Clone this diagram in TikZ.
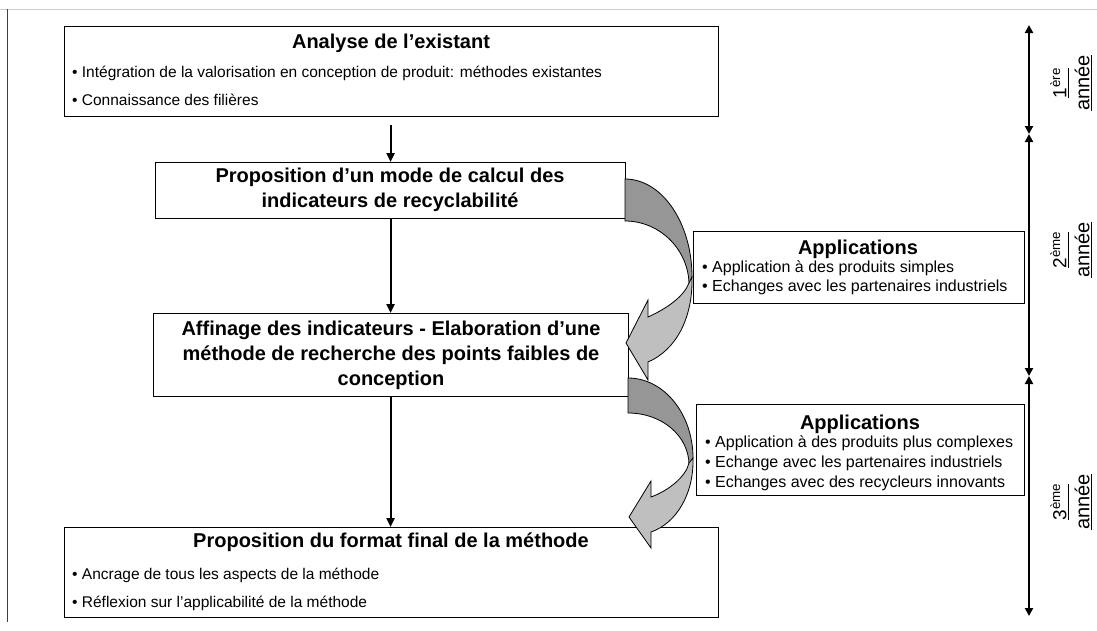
\documentclass[tikz,border=0pt]{standalone}
\usepackage{fontspec}
\setmainfont{Liberation Sans}
\usetikzlibrary{arrows.meta}
\begin{document}
\begin{tikzpicture}[x=1pt,y=-1pt,
  boxst/.style={draw=black,line width=1.2pt,fill=white,inner sep=0pt,anchor=north west},
  titlest/.style={inner sep=0pt,align=center,font=\fontsize{20}{25}\selectfont\bfseries},
  apptitle/.style={inner sep=0pt,font=\fontsize{20}{24}\selectfont\bfseries},
  bulst/.style={inner sep=0pt,anchor=mid west,font=\fontsize{15.5}{18}\selectfont},
  appbul/.style={inner sep=0pt,anchor=mid west,font=\fontsize{16}{19}\selectfont},
  varr/.style={line width=2.2pt,-{Triangle[length=9pt,width=8pt]}},
  tlarr/.style={line width=2.2pt,{Triangle[length=8pt,width=8pt]}-{Triangle[length=8pt,width=8pt]}},
  yearst/.style={inner sep=0pt,rotate=90,align=center,font=\fontsize{20}{23}\selectfont},
  darkpart/.style={fill=black!41,draw=black,line width=0.8pt},
  lightpart/.style={fill=black!25,draw=black,line width=0.8pt}
]
\useasboundingbox (0,0) rectangle (1097,630);
\fill[white] (0,0) rectangle (1097,630);
% frame lines
\draw[black!20,line width=0.8pt] (0,9) -- (1097,9);
\draw[black!75,line width=1pt] (7,9) -- (7,622);

% main boxes
\node[boxst,minimum width=654pt,minimum height=90pt] (b1) at (64,26) {};
\node[boxst,minimum width=470pt,minimum height=56pt] (b2) at (155,162) {};
\node[boxst,minimum width=475pt,minimum height=83pt] (b3) at (153,313) {};
\node[boxst,minimum width=654pt,minimum height=90pt] (b4) at (64,527) {};
\node[boxst,minimum width=331pt,minimum height=72pt] (a1) at (693,231) {};
\node[boxst,minimum width=328pt,minimum height=91pt] (a2) at (696,404) {};

% texts
\node[titlest] (t1) at (391,43) {Analyse de l’existant};
\node[bulst] (t1a) at (72,75) {• Intégration de la valorisation en conception de produit: méthodes existantes};
\node[bulst] (t1b) at (72,103) {• Connaissance des filières};

\node[titlest] (t2) at (390,190) {Proposition d’un mode de calcul des\\indicateurs de recyclabilité};

\node[titlest] (t3) at (391,355) {Affinage des indicateurs - Elaboration d’une\\méthode de recherche des points faibles de\\conception};

\node[titlest] (t4) at (391,542) {Proposition du format final de la méthode};
\node[bulst] (t4a) at (72,577) {• Ancrage de tous les aspects de la méthode};
\node[bulst] (t4b) at (72,605) {• Réflexion sur l’applicabilité de la méthode};

\node[apptitle] (at1) at (858,249) {Applications};
\node[appbul] (a1a) at (702,270) {• Application à des produits simples};
\node[appbul] (a1b) at (702,289) {• Echanges avec les partenaires industriels};

\node[apptitle] (at2) at (860,424) {Applications};
\node[appbul] (a2a) at (705,445) {• Application à des produits plus complexes};
\node[appbul] (a2b) at (705,465) {• Echange avec les partenaires industriels};
\node[appbul] (a2c) at (705,485) {• Echanges avec des recycleurs innovants};

% vertical arrows
\draw[varr,shorten <=8pt] (b1.south -| b2.north) -- (b2.north);
\draw[varr] (b2.south) -- (b3.north -| b2.south);
\draw[varr] (b3.south -| b2.south) -- (b4.north -| b2.south);

% curved arrow 1
\draw[darkpart] (625,179) .. controls (662,179) and (692,223) .. (692,277)
   -- (689,285) .. controls (689,250) and (660,221) .. (625,221) -- cycle;
\draw[lightpart] (692,277) .. controls (693,318) and (676,350) .. (648,362)
   -- (648,380) -- (626,343) -- (648,300) -- (648,317)
   .. controls (668,308) and (684,296) .. (689,283) -- cycle;

% curved arrow 2
\draw[darkpart] (628,378) .. controls (664,378) and (693,414) .. (693,458)
   -- (689,465) .. controls (689,436) and (662,413) .. (628,413) -- cycle;
\draw[lightpart] (693,458) .. controls (694,493) and (677,523) .. (651,532)
   -- (651,548) -- (629,517) -- (651,481) -- (651,497)
   .. controls (670,490) and (686,476) .. (689,463) -- cycle;

% timeline
\coordinate (tl0) at (1029,25);
\coordinate (tl1) at (1029,134);
\coordinate (tl2) at (1029,376);
\coordinate (tl3) at (1029,616);
\draw[tlarr] (tl0) -- (tl1);
\draw[tlarr] (tl1) -- (tl2);
\draw[tlarr] (tl2) -- (tl3);

\node[yearst] (y1) at (1071,83) {\underline{\fontsize{19}{22}\selectfont 1\textsuperscript{ère}}\\\underline{année}};
\node[yearst] (y2) at (1071,250) {\underline{\fontsize{19}{22}\selectfont 2\textsuperscript{ème}}\\\underline{année}};
\node[yearst] (y3) at (1071,502) {\underline{\fontsize{19}{22}\selectfont 3\textsuperscript{ème}}\\\underline{année}};
\end{tikzpicture}
\end{document}
